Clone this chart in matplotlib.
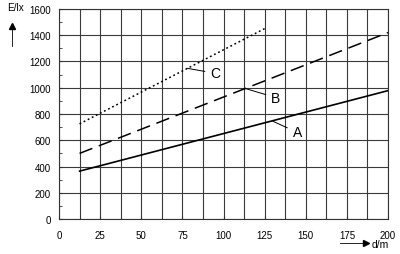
import matplotlib.pyplot as plt
import numpy as np

plt.rcParams['font.family'] = ['Liberation Sans', 'DejaVu Sans']

# curve data: distance d (m) -> illuminance E (lx)
d_A = [12.5, 200]
E_A = [365, 978]
d_B = [12.5, 200]
E_B = [500, 1420]
d_C = [12.5, 125]
E_C = [725, 1450]

xticks = [0, 25, 50, 75, 100, 125, 150, 175, 200]
yticks = [0, 200, 400, 600, 800, 1000, 1200, 1400, 1600]

fig = plt.figure(figsize=(4, 2.55), dpi=100)
ax = fig.add_axes([0.1475, 0.137, 0.8225, 0.824])

ax.set_xlim(0, 200)
ax.set_ylim(0, 1600)
ax.set_xticks(xticks)
ax.set_yticks(yticks)
ax.set_xticks(np.arange(0, 201, 12.5), minor=True)
ax.set_yticks(np.arange(0, 1601, 100), minor=True)
ax.grid(True, which='major', color='#3a3a3a', lw=0.8)
ax.grid(True, which='minor', axis='x', color='#3a3a3a', lw=0.8)
ax.tick_params(which='both', direction='in', length=2, color='#333333', labelsize=7, pad=6)
ax.tick_params(axis='x', pad=8)
for s in ax.spines.values():
    s.set_color('#333333')
    s.set_linewidth(0.8)

ax.plot(d_A, E_A, '-', color='black', lw=1.2)
ax.plot(d_B, E_B, color='black', lw=1.1, dashes=(9, 4.5))
ax.plot(d_C, E_C, color='black', lw=1.1, dashes=(1.2, 1.8))

# curve labels with leader lines
ax.annotate('C', xy=(78, 1148), xytext=(92, 1110), fontsize=10, va='center',
            arrowprops=dict(arrowstyle='-', color='black', lw=0.7, shrinkB=0, shrinkA=2))
ax.annotate('B', xy=(113, 995), xytext=(129, 925), fontsize=10, va='center',
            arrowprops=dict(arrowstyle='-', color='black', lw=0.7, shrinkB=0, shrinkA=2))
ax.annotate('A', xy=(130, 745), xytext=(142, 660), fontsize=10, va='center',
            arrowprops=dict(arrowstyle='-', color='black', lw=0.7, shrinkB=0, shrinkA=2))

# axis labels with arrows
fig.text(0.017, 0.97, 'E/lx', fontsize=7.2, va='center')
fig.add_artist(plt.Line2D([0.031, 0.031], [0.815, 0.895], color='black', lw=0.6))
fig.add_artist(plt.Line2D([0.031], [0.895], marker='^', color='black', ms=5))
fig.text(0.93, 0.04, 'd/m', fontsize=7.5, va='center')
fig.add_artist(plt.Line2D([0.85, 0.915], [0.045, 0.045], color='black', lw=0.6))
fig.add_artist(plt.Line2D([0.915], [0.045], marker='>', color='black', ms=5))

fig.savefig('out.png', dpi=100)
